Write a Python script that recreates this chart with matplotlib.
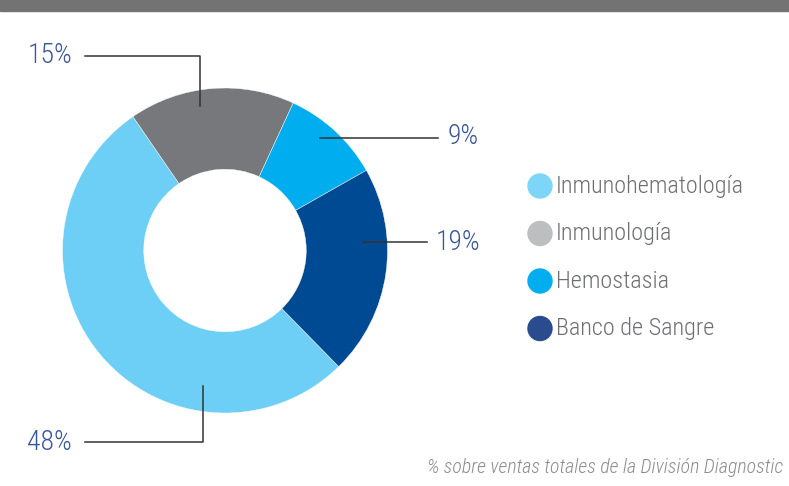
import matplotlib
matplotlib.use('Agg')
import matplotlib.pyplot as plt

categorias = ['Inmunohematología', 'Inmunología', 'Hemostasia', 'Banco de Sangre']
valores = [48, 15, 9, 19]
etiquetas = ['48%', '15%', '9%', '19%']

colores_pie = ['#6dcff6', '#77787b', '#00aeef', '#004a93']
colores_leyenda = ['#7dd5f7', '#bcbec0', '#00aeef', '#2a4b8d']

# fuente estrecha y fina, con respaldo
plt.rcParams['font.family'] = ['Roboto Condensed', 'Roboto', 'DejaVu Sans']
plt.rcParams['font.weight'] = 'light'

H = 486
fig = plt.figure(figsize=(7.89, 4.86), dpi=100)
ax = fig.add_axes([0, 0, 1, 1])

# centro y radio en pixeles (y hacia arriba)
cx, cy, r = 225, H - 250.5, 162.5
ax.pie(valores, colors=colores_pie, startangle=-45.6, counterclock=False,
       center=(cx, cy), radius=r, wedgeprops=dict(width=r * 0.5, linewidth=0.3, edgecolor='white'))

# barra gris superior
ax.add_patch(plt.Rectangle((0, H - 11), 789, 11, color='#737373', clip_on=False))

# lineas guia y porcentajes (coordenadas de imagen)
azul = '#3a5599'
guias = [
    ([85, 203, 203], [442, 442, 386], (72, 442), 'right'),
    ([85, 200, 200], [56, 56, 106], (72, 56), 'right'),
    ([320, 438], [138, 138], (448, 137), 'left'),
    ([363, 427], [242, 242], (436, 243), 'left'),
]
for (xs, ys, (tx, ty), ha), et in zip(guias, etiquetas):
    ax.plot(xs, [H - y for y in ys], color='#333333', lw=1.1)
    ax.text(tx, H - ty, et, color=azul, fontsize=20, ha=ha, va='center')

# leyenda
for i, (cat, col) in enumerate(zip(categorias, colores_leyenda)):
    y = H - (186 + i * 47.5)
    ax.add_patch(plt.Circle((540, y), 12, color=col))
    ax.text(556, y, cat, color='#6d6e71', fontsize=17.5, ha='left', va='center')

ax.text(783, H - 467, '% sobre ventas totales de la División Diagnostic', color='#8c8c8c',
        fontsize=14.3, style='italic', ha='right', va='center')

ax.set_xlim(0, 789)
ax.set_ylim(0, H)
ax.set_aspect('equal')
ax.axis('off')

fig.savefig('out.png', dpi=100)
